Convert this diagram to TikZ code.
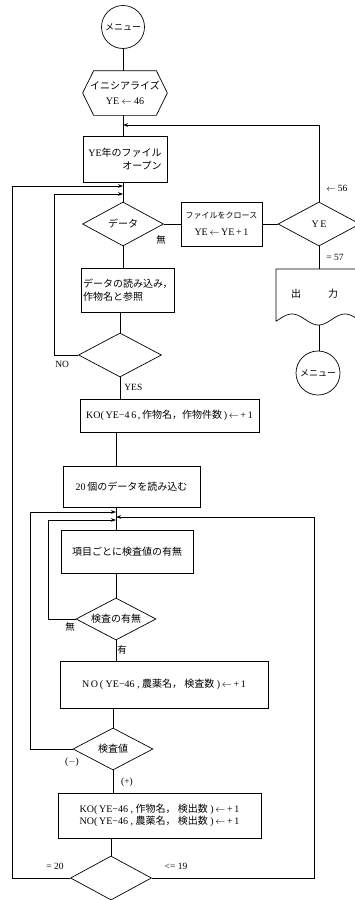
\documentclass[tikz,border=0pt]{standalone}
\usepackage{fontspec}
\setmainfont{Liberation Serif}
\newfontfamily\jp{Noto Sans CJK JP}
\usetikzlibrary{shapes.geometric,arrows.meta}
\begin{document}
\begin{tikzpicture}[x=1pt,y=-1pt, line width=0.7pt,
  box/.style={draw, rectangle, inner sep=0pt},
  dia/.style={draw, diamond, aspect=1.9, inner sep=0pt},
  bare/.style={inner sep=0pt},
  lbl/.style={inner sep=0pt, font=\fontsize{9.5}{10}\selectfont},
  arr/.style={-{Stealth[length=5pt,width=3.6pt]}},
  font=\fontsize{10}{12.5}\selectfont]
\useasboundingbox (0,0) rectangle (355,900);
\clip (0,0) rectangle (355,900);

% nodes
\node[draw,circle,minimum size=43pt,inner sep=0pt] (m1) at (123,27) {\jp\fontsize{9}{10}\selectfont メニュー};
\node[bare, minimum width=84pt, minimum height=44pt, align=center] (init) at (125,93) {{\jp イニシアライズ}\\[2pt]YE $\leftarrow$ 46};
\draw (init.west) -- ([xshift=11pt]init.north west) -- ([xshift=-11pt]init.north east) -- (init.east) -- ([xshift=-11pt]init.south east) -- ([xshift=11pt]init.south west) -- cycle;
\node[box, minimum width=84pt, minimum height=46pt, align=left] (open) at (125,159) {YE{\jp 年のファイル}\\\hspace*{34pt}{\jp オープン}};
\node[dia, minimum width=81pt, minimum height=44pt] (data) at (123,224) {\jp データ};
\node[box, minimum width=81pt, minimum height=44pt, align=center] (close) at (221.5,224) {{\jp\fontsize{8}{9}\selectfont ファイルをクロース}\\[5pt]YE$\,\leftarrow\,$YE$\,$+$\,$1};
\node[dia, minimum width=82pt, minimum height=44pt] (ye) at (319,224) {Y\,E};
\node[bare] (outn) at (314.5,294) {{\jp 出}\hspace{27pt}{\jp 力}};
\coordinate (outtop) at (319,269);
\coordinate (outb) at (319,325);
\draw (365,269) -- (276,269) -- (276,321.3) -- plot[domain=276:365,samples=60,smooth] (\x,{319.5-5.5*cos(6.7925*(\x-292))});
\node[draw,circle,minimum size=44pt,inner sep=0pt] (m2) at (318,373) {\jp\fontsize{9}{10}\selectfont メニュー};
\node[box, minimum width=93pt, minimum height=44pt, align=left, text width=89pt] (read) at (127.5,290) {\jp データの読み込み，\\作物名と参照};
\node[dia, minimum width=83pt, minimum height=44pt] (dec1) at (120,355) {};
\node[box, minimum width=179pt, minimum height=33pt] (ko1) at (169.5,415.5) {KO(\,YE−4\,6\,,\,{\jp 作物名，作物件数}\,)\,$\leftarrow$\,+\,1};
\node[box, minimum width=137pt, minimum height=41pt] (r20) at (131.5,486.5) {20\,{\jp 個のデータを読み込む}};
\node[box, minimum width=132pt, minimum height=43pt] (item) at (127,551.5) {\jp 項目ごとに検査値の有無};
\node[dia, minimum width=80pt, minimum height=42pt] (chk) at (116,619) {\jp 検査の有無};
\node[box, minimum width=208pt, minimum height=47pt] (no1) at (164,684.5) {N\,O\,(\ YE−46\ ,\ {\jp 農薬名，\ 検査数}\ )\,$\leftarrow$\,+\,1};
\node[dia, minimum width=80pt, minimum height=42pt] (val) at (113,749) {\jp 検査値};
\node[box, minimum width=203pt, minimum height=45pt, align=left] (kono) at (159.5,815.5) {KO(\,YE−46\ ,\ {\jp 作物名，\ 検出数}\ )\,$\leftarrow$\,+\,1\\NO(\,YE−46\ ,\ {\jp 農薬名，\ 検出数}\ )\,$\leftarrow$\,+\,1};
\node[dia, minimum width=81pt, minimum height=44pt] (last) at (111,878) {};

% junctions
\coordinate (j0) at (123,125);
\coordinate (j1) at (123,186);
\coordinate (j2) at (123,194);
\coordinate (j3) at (116,512);
\coordinate (j4) at (116,517);
\coordinate (j5) at (116,520);

% connectors
\draw (m1) -- (m1 |- init.north);
\draw (init.south -| j0) -- (open.north -| j0);
\draw (open.south -| data.north) -- (data.north);
\draw (data) -- (close);
\draw (close) -- (ye);
\draw[arr] (ye.north) |- (j0);
\draw (ye.south) -- (outtop);
\draw (outb) -- (outb |- m2.north);
\draw (data) -- (data |- read.north);
\draw (read.south -| dec1) -- (dec1.north);
\draw (dec1) -- (dec1 |- ko1.north);
\draw (ko1.south -| j3) -- (r20.north -| j3);
\draw (r20.south -| j3) -- (item.north -| j3);
\draw (item.south -| chk) -- (chk);
\draw (chk) -- (chk |- no1.north);
\draw (no1.south -| val) -- (val);
\draw (val) -- (val |- kono.north);
\draw (kono.south -| last) -- (last);
\draw[arr] (dec1.west) -- ++(-24,0) |- (j2);
\draw[arr] (chk.west) -- ++(-27,0) |- (j5);
\draw[arr] (val.west) -- ++(-42,0) |- (j3);
\draw[arr] (last.west) -- ++(-58,0) |- (j1);
\draw[arr] (last.east) -- ++(162,0) |- (j4);

% labels
\node[lbl] (l1) at (161,240) {\jp 無};
\node[lbl, anchor=west] (l2) at (326,188) {$\leftarrow$ 56};
\node[lbl, anchor=west] (l3) at (326,257) {= 57};
\node[lbl, anchor=west] (l4) at (55,364) {NO};
\node[lbl, anchor=west] (l5) at (124,387) {YES};
\node[lbl] (l6) at (70,627) {\jp 無};
\node[lbl, anchor=west] (l7) at (117,650) {\jp 有};
\node[lbl] (l8) at (72,762) {($-$)};
\node[lbl] (l9) at (127,782) {(+)};
\node[lbl] (l10) at (55,866) {= 20};
\node[lbl] (l11) at (176,866) {<= 19};
\end{tikzpicture}
\end{document}
